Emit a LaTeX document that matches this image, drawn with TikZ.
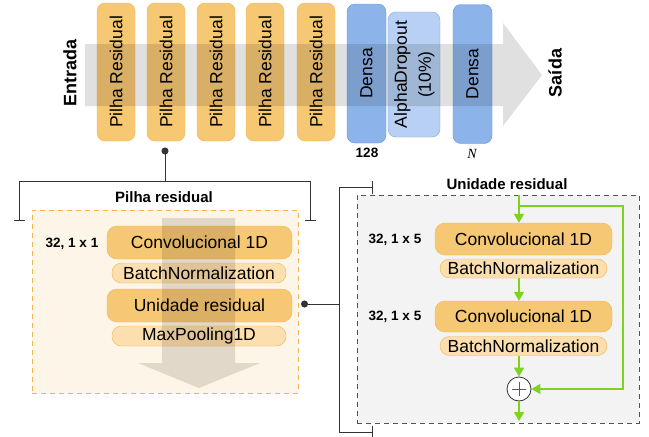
\documentclass[tikz,border=0pt]{standalone}
\usepackage{fontspec}
\setmainfont{Liberation Sans}
\newfontfamily\serifit{Liberation Serif}
\usetikzlibrary{arrows.meta,shapes.geometric}
\definecolor{orfill}{HTML}{F7C873}
\definecolor{ordraw}{HTML}{F2B450}
\definecolor{bnfill}{HTML}{FCDFAF}
\definecolor{blfill}{HTML}{8DB4EA}
\definecolor{bldraw}{HTML}{5E93E3}
\definecolor{alfill}{HTML}{B7D0F3}
\definecolor{aldraw}{HTML}{7FA9EA}
\definecolor{grarrow}{HTML}{E0E0E0}
\definecolor{grarrowb}{HTML}{E3E1DE}
\definecolor{panelor}{HTML}{FDF5E8}
\definecolor{panelgr}{HTML}{F3F3F3}
\definecolor{grn}{HTML}{7ED321}
\definecolor{brkc}{HTML}{333333}
\newcommand\fmain{\fontsize{17.5}{21}\selectfont}
\begin{document}
\begin{tikzpicture}[x=1pt,y=-1pt,
  resbox/.style={draw=ordraw, fill=orfill, rounded corners=8pt, minimum width=38pt, minimum height=138pt, inner sep=0pt, font=\fmain},
  densebox/.style={draw=bldraw, fill=blfill, rounded corners=8pt, minimum width=39pt, minimum height=139pt, inner sep=0pt, font=\fmain},
  alphabox/.style={draw=aldraw, fill=alfill, rounded corners=8pt, minimum width=52pt, minimum height=125pt, inner sep=0pt, font=\fontsize{17.5}{24}\selectfont},
  convbox/.style={draw=ordraw, fill=orfill, rounded corners=10pt, minimum height=33pt, inner sep=0pt, font=\fmain},
  bnbox/.style={draw=ordraw, fill=bnfill, rounded corners=9.5pt, minimum height=20pt, inner sep=0pt, font=\fmain},
  bigtitle/.style={font=\fontsize{18}{21}\selectfont\bfseries, inner sep=0pt},
  paneltitle/.style={font=\fontsize{15}{18}\selectfont\bfseries, inner sep=0pt},
  smalllbl/.style={font=\fontsize{13.5}{16}\selectfont\bfseries, inner sep=0pt},
  brk/.style={draw=brkc, line width=1pt},
  garrow/.style={draw=grn, line width=1.6pt, -{Triangle[length=9pt,width=10pt]}},
]
\useasboundingbox (0,0) rectangle (649,437);

% ---------- top row ----------
\node[resbox] (p1) at (116,72) {\rotatebox{90}{Pilha Residual}};
\node[resbox] (p2) at (166,72) {\rotatebox{90}{Pilha Residual}};
\node[resbox] (p3) at (216,72) {\rotatebox{90}{Pilha Residual}};
\node[resbox] (p4) at (265,72) {\rotatebox{90}{Pilha Residual}};
\node[resbox] (p5) at (316,72) {\rotatebox{90}{Pilha Residual}};
\node[densebox] (d1) at (366.5,73.5) {\rotatebox{90}{Densa}};
\node[alphabox] (ad) at (414,74.5) {\rotatebox{90}{\begin{tabular}{@{}c@{}}AlphaDropout\\(10\%)\end{tabular}}};
\node[densebox] (d2) at (472.5,74) {\rotatebox{90}{Densa}};

\begin{scope}[blend mode=multiply]
  \fill[grarrow] (85,44) -- (503,44) -- (503,23) -- (542,75) -- (503,126) -- (503,106) -- (85,106) -- cycle;
\end{scope}

\node[bigtitle] (entrada) at (70,73) {\rotatebox{90}{Entrada}};
\node[bigtitle] (saida) at (555,73) {\rotatebox{90}{Saída}};
\node[smalllbl] (n128) at (367,153) {128};
\node[inner sep=0pt, font=\serifit\itshape\fontsize{14}{16}\selectfont] (nN) at (472,154) {N};

% ---------- connector to Pilha residual ----------
\coordinate (dot1) at (165,147.5);
\coordinate (brkmid) at (165,181);
\draw[brk, {Circle[length=7pt]}-] (dot1) -- (brkmid);
\draw[brk, {Bar[width=11pt]}-{Bar[width=11pt]}] (19,221) -- (19,181) -- (310,181) -- (310,221);
\node[paneltitle] (lt) at (164,197) {Pilha residual};

% ---------- left panel ----------
\node[draw=ordraw, dashed, dash pattern=on 5pt off 4pt, line width=1pt, fill=panelor, minimum width=266pt, minimum height=183pt, inner sep=0pt] (lp) at (165,301.5) {};
\node[convbox, minimum width=185pt] (lc1) at (199.5,242.5) {Convolucional 1D};
\node[bnbox, minimum width=174pt] (lb1) at (199,273) {BatchNormalization};
\node[convbox, minimum width=185pt] (lu) at (199.5,305.5) {Unidade residual};
\node[bnbox, minimum width=174pt] (lm) at (199,336) {MaxPooling1D};
\node[smalllbl] (l32a) at (72,244) {32, 1 x 1};
\begin{scope}[blend mode=multiply]
  \fill[grarrowb] (162,218) -- (235,218) -- (235,363) -- (260,363) -- (199,388) -- (138,363) -- (162,363) -- cycle;
\end{scope}

% ---------- connector to Unidade residual ----------
\coordinate (dot2) at (301,304);
\coordinate (brkr) at (339,304);
\draw[brk, {Circle[length=7pt]}-] (dot2) -- (brkr);
\draw[brk, {Bar[width=13pt]}-{Bar[width=13pt]}] (373,187) -- (339,187) -- (339,432) -- (373,432);
\node[paneltitle] (rt) at (507,184) {Unidade residual};

% ---------- right panel ----------
\node[draw=brkc!85, dashed, dash pattern=on 5pt off 4pt, line width=1pt, fill=panelgr, minimum width=282pt, minimum height=228pt, inner sep=0pt] (rp) at (498,309) {};
\node[convbox, minimum width=177pt, minimum height=32pt] (rc1) at (523.5,239) {Convolucional 1D};
\node[bnbox, minimum width=167pt, minimum height=19pt] (rb1) at (523.5,268.5) {BatchNormalization};
\node[convbox, minimum width=177pt, minimum height=31pt] (rc2) at (523.5,316.5) {Convolucional 1D};
\node[bnbox, minimum width=167pt, minimum height=19pt] (rb2) at (523.5,346) {BatchNormalization};
\node[smalllbl] (r32a) at (395,240) {32, 1 x 5};
\node[smalllbl] (r32b) at (395,317) {32, 1 x 5};
\node[circle, draw=brkc, fill=white, line width=0.8pt, minimum size=24pt, inner sep=0pt] (plus) at (519,389) {};
\draw[brkc!80, line width=0.8pt] ([xshift=-7pt]plus.center) -- ([xshift=7pt]plus.center);
\draw[brkc!80, line width=0.8pt] ([yshift=-7pt]plus.center) -- ([yshift=7pt]plus.center);

\coordinate (gtop) at (519,195);
\coordinate (gsplit) at (519,206);
\coordinate (gcorner) at (623,389);
\coordinate (gbot) at (519,421);
\draw[garrow] (gtop) -- (gtop |- rc1.north);
\draw[garrow] (rb1.south -| gtop) -- (rc2.north -| gtop);
\draw[garrow] (rb2.south -| gtop) -- (plus.north);
\draw[garrow] (plus.south) -- (gbot);
\draw[garrow] (gsplit) -| (gcorner) -- (plus.east);
\end{tikzpicture}
\end{document}
